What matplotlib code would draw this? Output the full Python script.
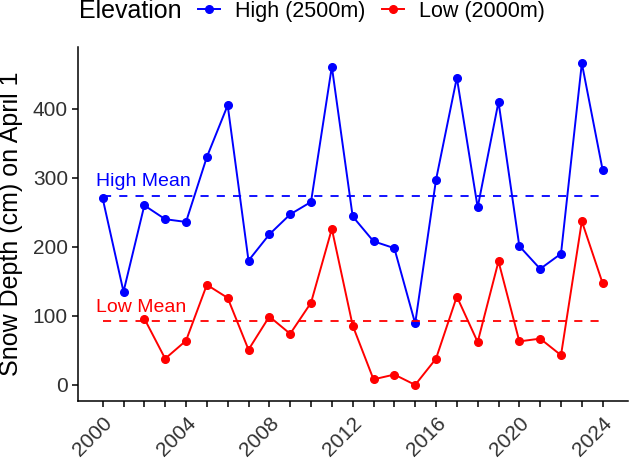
#!/usr/bin/env python3
"""Snow depth on April 1 at two elevations, 2000-2024."""
import numpy as np
import matplotlib
matplotlib.use('Agg')
import matplotlib.pyplot as plt

plt.rcParams.update({
    'font.family': ['Liberation Sans', 'DejaVu Sans'],
    'axes.linewidth': 1.1,
})

years = list(range(2000, 2025))
high_depth = [270, 135, 260, 240, 236, 330, 405, 180, 218, 247, 265, 461, 244,
              208, 198, 89, 297, 445, 257, 410, 201, 168, 190, 466, 311]
# no low-station readings for 2000 and 2001
low_depth = [np.nan, np.nan, 96, 38, 64, 145, 126, 51, 99, 74, 119, 226, 86,
             8, 15, 0, 38, 128, 62, 179, 63, 67, 43, 237, 147]
high_mean = 274
low_mean = 92
series_labels = ['High (2500m)', 'Low (2000m)']
mean_labels = ['High Mean', 'Low Mean']
x_ticks = list(range(2000, 2025, 4))
y_ticks = [0, 100, 200, 300, 400]

BLUE = '#0000FF'
RED = '#FF0000'

fig = plt.figure(figsize=(6.3, 4.59), dpi=100)
ax = fig.add_axes([0.1233, 0.1264, 0.873, 0.7706])

ax.plot(years, high_depth, '-o', color=BLUE, lw=1.4, ms=5.5, label=series_labels[0])
ax.plot(years, low_depth, '-o', color=RED, lw=1.4, ms=5.5, label=series_labels[1])

ax.plot([years[0], years[-1]], [high_mean, high_mean], color=BLUE, lw=1.3, dashes=(4.5, 4.5))
ax.plot([years[0], years[-1]], [low_mean, low_mean], color=RED, lw=1.3, dashes=(4.5, 4.5))
ax.text(years[0] - 0.3, high_mean + 8, mean_labels[0], color=BLUE, fontsize=14,
        ha='left', va='bottom')
ax.text(years[0] - 0.3, low_mean + 8, mean_labels[1], color=RED, fontsize=14,
        ha='left', va='bottom')

ax.set_xlim(1998.8, 2025.2)
ax.set_ylim(-23.3, 489)
ax.set_xticks(years, minor=False)
ax.set_xticklabels([str(y) if y in x_ticks else '' for y in years])
ax.set_yticks(y_ticks)
for lab in ax.get_xticklabels():
    lab.set_rotation(45)
    lab.set_ha('right')
    lab.set_va('top')
    lab.set_rotation_mode('anchor')
ax.tick_params(axis='both', length=4, width=1.1, color='black',
               labelsize=15, labelcolor='#303030')
ax.tick_params(axis='x', pad=5)
ax.tick_params(axis='y', pad=3)
for s in ['top', 'right']:
    ax.spines[s].set_visible(False)

ax.set_ylabel('Snow Depth (cm) on April 1', fontsize=18)
ax.yaxis.set_label_coords(-0.099, 0.5)

fig.text(79 / 630, 0.976, 'Elevation', fontsize=18, ha='left', va='center')
fig.legend(loc='center left', bbox_to_anchor=(198 / 630, 0.976), ncol=2,
           frameon=False, fontsize=15.5, handlelength=1.0, handletextpad=0.7,
           columnspacing=0.8, borderpad=0, borderaxespad=0)

fig.savefig('out.png', dpi=100)
